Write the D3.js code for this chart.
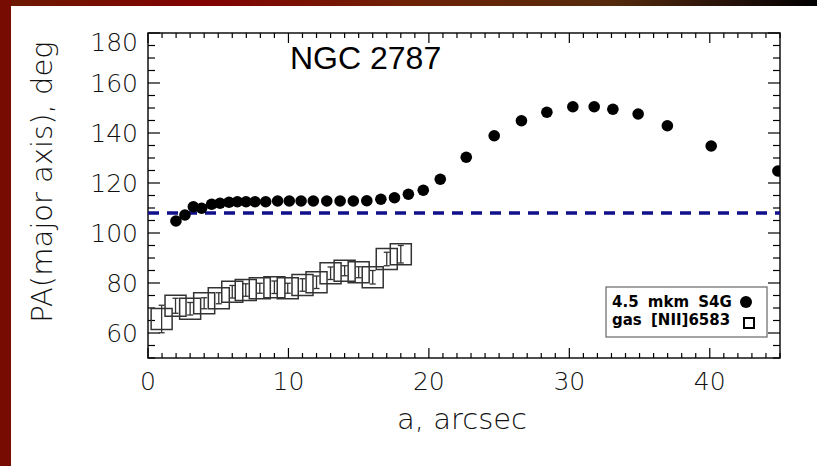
<!DOCTYPE html>
<html>
<head>
<meta charset="utf-8">
<script src="https://cdn.jsdelivr.net/npm/d3@7"></script>
<style>
  body { margin: 0; background: #fff; }
  svg { display: block; }
  .tick-label { font-family: 'DejaVu Sans', sans-serif; font-weight: 200; fill: #111; }
  .axis-title { font-family: 'DejaVu Sans', sans-serif; font-weight: 200; fill: #111; }
</style>
</head>
<body>
<svg width="817" height="466"></svg>
<script>
// 4.5 micron S4G isophote PA
var dotA  = [1.99, 2.63, 3.23, 3.82, 4.53, 5.13, 5.77, 6.36, 6.98, 7.62, 8.38, 9.23, 10.06, 10.90, 11.77, 12.73,
             13.68, 14.62, 15.58, 16.58, 17.55, 18.54, 19.6, 20.81, 22.66, 24.65, 26.59, 28.40, 30.25, 31.77,
             33.1, 34.9, 36.98, 40.1, 44.85];
var dotPA = [104.8, 107.2, 110.5, 109.9, 111.5, 111.9, 112.3, 112.5, 112.5, 112.5, 112.5, 112.8, 112.8, 112.8, 112.8, 112.8,
             112.8, 112.8, 112.9, 113.5, 114.1, 115.5, 117.1, 121.5, 130.3, 138.9, 144.9, 148.3, 150.5, 150.5,
             149.5, 147.6, 142.9, 134.8, 124.8];

// gas [NII]6583 kinematic PA
var gasA   = [0.97, 1.96, 3.0, 4.0, 5.04, 6.0, 6.96, 7.96, 9.0, 9.95, 11.0, 12.0, 13.0, 14.0, 15.0, 16.0, 17.0, 18.0];
var gasPA  = [65.6, 70.9, 69.7, 71.9, 73.9, 76.5, 77.2, 77.9, 78.3, 77.9, 79.2, 80.3, 83.9, 84.9, 84.3, 82.3, 89.6, 91.5];
var gasErr = [5.5, 3.0, 2.5, 2.2, 2.2, 2.5, 2.5, 2.0, 2.5, 2.0, 2.5, 2.5, 2.5, 2.0, 2.2, 2.7, 2.7, 3.5];

var photPA = 108;   // dashed line

var xTicks = [0, 10, 20, 30, 40];
var yTicks = [60, 80, 100, 120, 140, 160, 180];
var legendLabels = ['4.5 mkm S4G', 'gas [NII]6583'];

var svg = d3.select('svg'),
    w = +svg.attr('width'),
    h = +svg.attr('height');

var pl = 148, pr = 780, pt = 33, pb = 358;

// page background and frame strips
var defs = svg.append('defs');
var grad = defs.append('linearGradient').attr('id', 'topbar');
[[0, '#6b1a02'], [0.25, '#820202'], [0.5, '#6e2206'], [0.75, '#542a0c'], [0.9, '#24100a'], [1, '#000']]
  .forEach(function(s){ grad.append('stop').attr('offset', s[0]).attr('stop-color', s[1]); });

svg.append('rect').attr('width', w).attr('height', h).attr('fill', '#fff');
svg.append('rect').attr('width', w).attr('height', 6).attr('fill', 'url(#topbar)');
svg.append('rect').attr('width', 11).attr('height', h).attr('fill', '#760c02');

defs.append('clipPath').attr('id', 'plotclip')
  .append('rect').attr('x', pl).attr('y', pt).attr('width', pr - pl).attr('height', pb - pt);

var x = d3.scaleLinear().domain([0, 45]).range([pl, pr]),
    y = d3.scaleLinear().domain([50, 180]).range([pb, pt]);

// ticks: inward on all four sides
var ax = svg.append('g').attr('stroke', '#000').attr('stroke-width', 1.2);
d3.range(0, 46, 1).forEach(function(v){
  var len = v % 10 === 0 ? 10 : 5;
  ax.append('line').attr('x1', x(v)).attr('x2', x(v)).attr('y1', pb).attr('y2', pb - len);
  ax.append('line').attr('x1', x(v)).attr('x2', x(v)).attr('y1', pt).attr('y2', pt + len);
});
d3.range(50, 181, 5).forEach(function(v){
  var len = v % 20 === 0 ? 12 : 7;
  ax.append('line').attr('y1', y(v)).attr('y2', y(v)).attr('x1', pl).attr('x2', pl + len);
  ax.append('line').attr('y1', y(v)).attr('y2', y(v)).attr('x1', pr).attr('x2', pr - len);
});
svg.append('rect').attr('x', pl).attr('y', pt).attr('width', pr - pl).attr('height', pb - pt)
  .attr('fill', 'none').attr('stroke', '#000').attr('stroke-width', 1.4);

// tick labels
svg.selectAll('.xl').data(xTicks).enter().append('text')
  .attr('class', 'tick-label')
  .attr('x', function(d){ return x(d); })
  .attr('y', 381)
  .attr('text-anchor', 'middle').attr('dominant-baseline', 'central')
  .style('font-size', '25px')
  .text(function(d){ return d; });

svg.selectAll('.yl').data(yTicks).enter().append('text')
  .attr('class', 'tick-label')
  .attr('x', pl - 10)
  .attr('y', function(d){ return Math.max(y(d), pt + 9); })
  .attr('text-anchor', 'end').attr('dominant-baseline', 'central')
  .style('font-size', '25px')
  .text(function(d){ return d; });

svg.append('text').attr('class', 'axis-title')
  .attr('x', 462).attr('y', 419)
  .attr('text-anchor', 'middle').attr('dominant-baseline', 'central')
  .style('font-size', '29px')
  .text('a, arcsec');

svg.append('text').attr('class', 'axis-title')
  .attr('transform', 'translate(42,182) rotate(-90)')
  .attr('text-anchor', 'middle').attr('dominant-baseline', 'central')
  .style('font-size', '29px')
  .text('PA(major axis), deg');

svg.append('text')
  .attr('x', 290).attr('y', 69)
  .style('font-family', "'Liberation Sans', Arial, sans-serif")
  .style('font-size', '32px')
  .attr('fill', '#000')
  .text('NGC 2787');

var plot = svg.append('g').attr('clip-path', 'url(#plotclip)');

// photometric PA, dashed
plot.append('line')
  .attr('x1', x(0)).attr('x2', x(45))
  .attr('y1', y(photPA)).attr('y2', y(photPA))
  .attr('stroke', '#10108a').attr('stroke-width', 3.4)
  .attr('stroke-dasharray', '11,8');

// gas squares with error bars
var gas = gasA.map(function(a, i){ return {a: a, pa: gasPA[i], e: gasErr[i]}; });
var sq = 21;
plot.selectAll('rect.gas').data(gas).enter().append('rect')
  .attr('class', 'gas')
  .attr('x', function(d){ return x(d.a) - sq / 2; })
  .attr('y', function(d){ return y(d.pa) - sq / 2; })
  .attr('width', sq).attr('height', sq)
  .attr('fill', 'none').attr('stroke', '#333').attr('stroke-width', 1.5);

var eb = plot.selectAll('g.err').data(gas).enter().append('g')
  .attr('class', 'err').attr('stroke', '#333').attr('stroke-width', 1.3);
eb.append('line')
  .attr('x1', function(d){ return x(d.a); }).attr('x2', function(d){ return x(d.a); })
  .attr('y1', function(d){ return y(d.pa - d.e); }).attr('y2', function(d){ return y(d.pa + d.e); });
eb.append('line')
  .attr('x1', function(d){ return x(d.a) - 3; }).attr('x2', function(d){ return x(d.a) + 3; })
  .attr('y1', function(d){ return y(d.pa - d.e); }).attr('y2', function(d){ return y(d.pa - d.e); });
eb.append('line')
  .attr('x1', function(d){ return x(d.a) - 3; }).attr('x2', function(d){ return x(d.a) + 3; })
  .attr('y1', function(d){ return y(d.pa + d.e); }).attr('y2', function(d){ return y(d.pa + d.e); });

// S4G dots
plot.selectAll('circle.dot').data(dotA).enter().append('circle')
  .attr('class', 'dot')
  .attr('cx', function(d){ return x(d); })
  .attr('cy', function(d, i){ return y(dotPA[i]); })
  .attr('r', 5.8)
  .attr('fill', '#000');

// legend
var lg = svg.append('g');
lg.append('rect')
  .attr('x', 606).attr('y', 287).attr('width', 161).attr('height', 50)
  .attr('fill', '#fff').attr('stroke', '#666').attr('stroke-width', 1.2);
lg.selectAll('text').data(legendLabels).enter().append('text')
  .attr('x', 612)
  .attr('y', function(d, i){ return 307 + i * 18; })
  .style('font-family', "'DejaVu Sans', sans-serif")
  .style('font-weight', 'bold')
  .style('font-size', '15px')
  .style('word-spacing', '4px')
  .attr('fill', '#000')
  .text(function(d){ return d; });
lg.append('circle').attr('cx', 746).attr('cy', 302).attr('r', 6).attr('fill', '#000');
lg.append('rect').attr('x', 744).attr('y', 318).attr('width', 10).attr('height', 10)
  .attr('fill', 'none').attr('stroke', '#000').attr('stroke-width', 2);
</script>
</body>
</html>
